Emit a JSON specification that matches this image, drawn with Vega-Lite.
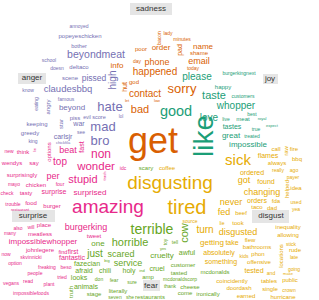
{
  "$schema": "https://vega.github.io/schema/vega-lite/v6.json",
  "width": 319,
  "height": 300,
  "autosize": {"type": "fit", "contains": "padding"},
  "padding": 0,
  "background": "white",
  "config": {"view": {"stroke": null}, "text": {"font": "Liberation Sans"}},
  "datasets": {
    "labels": [
      {"label": "sadness", "x": 151, "y": 9, "x1": 130, "x2": 172, "y1": 3, "y2": 15},
      {"label": "anger", "x": 32, "y": 78, "x1": 18, "x2": 46, "y1": 73, "y2": 84},
      {"label": "joy", "x": 270, "y": 79, "x1": 263, "x2": 278, "y1": 74, "y2": 84},
      {"label": "surprise", "x": 33, "y": 216, "x1": 12, "x2": 55, "y1": 210, "y2": 222},
      {"label": "disgust", "x": 271, "y": 216, "x1": 252, "x2": 289, "y1": 210, "y2": 223},
      {"label": "fear", "x": 151, "y": 286, "x1": 143, "x2": 160, "y1": 280, "y2": 291}
    ],
    "words": [
      {"word": "annoyed", "emotion": "anger", "x": 79, "y": 26, "n": 5, "v": false},
      {"word": "popeyeschicken", "emotion": "anger", "x": 80, "y": 36, "n": 6, "v": false},
      {"word": "bother", "emotion": "anger", "x": 79, "y": 46, "n": 5.5, "v": false},
      {"word": "beyondmeat", "emotion": "anger", "x": 96, "y": 55, "n": 10.5, "v": false},
      {"word": "school", "emotion": "anger", "x": 49, "y": 60, "n": 5, "v": false},
      {"word": "doesn", "emotion": "anger", "x": 57, "y": 68, "n": 5, "v": false},
      {"word": "deltaco", "emotion": "anger", "x": 79, "y": 67, "n": 6, "v": false},
      {"word": "scene", "emotion": "anger", "x": 70, "y": 78, "n": 6, "v": false},
      {"word": "pissed", "emotion": "anger", "x": 94, "y": 78, "n": 8.5, "v": false},
      {"word": "know", "emotion": "anger", "x": 28, "y": 90, "n": 5, "v": false},
      {"word": "claudesbbq", "emotion": "anger", "x": 68, "y": 89, "n": 9.5, "v": false},
      {"word": "famous", "emotion": "anger", "x": 66, "y": 99, "n": 5, "v": false},
      {"word": "high", "emotion": "anger", "x": 113, "y": 80, "n": 10, "v": true},
      {"word": "eating", "emotion": "anger", "x": 36, "y": 104, "n": 5, "v": true},
      {"word": "angry", "emotion": "anger", "x": 48, "y": 107, "n": 6, "v": true},
      {"word": "beyond", "emotion": "anger", "x": 72, "y": 108, "n": 8, "v": false},
      {"word": "hate", "emotion": "anger", "x": 110, "y": 107, "n": 13, "v": false},
      {"word": "star", "emotion": "anger", "x": 61, "y": 124, "n": 6, "v": true},
      {"word": "piss", "emotion": "anger", "x": 75, "y": 118, "n": 6, "v": false},
      {"word": "evil", "emotion": "anger", "x": 87, "y": 117, "n": 5, "v": false},
      {"word": "score", "emotion": "anger", "x": 99, "y": 117, "n": 5.5, "v": false},
      {"word": "lol", "emotion": "anger", "x": 121, "y": 117, "n": 4.5, "v": false},
      {"word": "keeping", "emotion": "anger", "x": 37, "y": 124, "n": 6, "v": false},
      {"word": "war", "emotion": "anger", "x": 79, "y": 124, "n": 7, "v": false},
      {"word": "mad", "emotion": "anger", "x": 103, "y": 127, "n": 13, "v": false},
      {"word": "greedy", "emotion": "anger", "x": 30, "y": 133, "n": 6, "v": false},
      {"word": "see", "emotion": "anger", "x": 81, "y": 132, "n": 5, "v": false},
      {"word": "carlsjr", "emotion": "anger", "x": 63, "y": 137, "n": 7, "v": false},
      {"word": "bro", "emotion": "anger", "x": 100, "y": 140.5, "n": 13, "v": false},
      {"word": "king", "emotion": "anger", "x": 33, "y": 141, "n": 5, "v": false},
      {"word": "chickfila", "emotion": "anger", "x": 63, "y": 143, "n": 4, "v": false},

      {"word": "new", "emotion": "surprise", "x": 9, "y": 151, "n": 5, "v": false},
      {"word": "think", "emotion": "surprise", "x": 23, "y": 152, "n": 6, "v": false},
      {"word": "lie", "emotion": "surprise", "x": 35, "y": 150, "n": 4, "v": true},
      {"word": "options", "emotion": "surprise", "x": 49, "y": 152, "n": 6, "v": true},
      {"word": "beat", "emotion": "surprise", "x": 68, "y": 150, "n": 9, "v": false},
      {"word": "fast", "emotion": "surprise", "x": 82, "y": 147, "n": 7, "v": true},
      {"word": "non", "emotion": "surprise", "x": 101, "y": 154, "n": 12, "v": false},
      {"word": "wendys", "emotion": "surprise", "x": 12, "y": 163, "n": 6, "v": false},
      {"word": "say", "emotion": "surprise", "x": 34, "y": 163, "n": 6, "v": false},
      {"word": "top", "emotion": "surprise", "x": 60, "y": 162, "n": 10, "v": false},
      {"word": "wonder", "emotion": "surprise", "x": 96, "y": 167, "n": 11.5, "v": false},
      {"word": "surprisingly", "emotion": "surprise", "x": 22, "y": 175, "n": 6, "v": false},
      {"word": "per", "emotion": "surprise", "x": 53, "y": 176, "n": 9, "v": false},
      {"word": "stupid", "emotion": "surprise", "x": 83, "y": 180, "n": 11, "v": false},
      {"word": "trash", "emotion": "surprise", "x": 105, "y": 176, "n": 4, "v": true},
      {"word": "mayo", "emotion": "surprise", "x": 14, "y": 184, "n": 5, "v": false},
      {"word": "chicken", "emotion": "surprise", "x": 36, "y": 185, "n": 6, "v": false},
      {"word": "four", "emotion": "surprise", "x": 60, "y": 184, "n": 5, "v": false},
      {"word": "check", "emotion": "surprise", "x": 7, "y": 193, "n": 5, "v": false},
      {"word": "tasty", "emotion": "surprise", "x": 26, "y": 193, "n": 6, "v": false},
      {"word": "surprise", "emotion": "surprise", "x": 54, "y": 192, "n": 7, "v": false},
      {"word": "surprised", "emotion": "surprise", "x": 90, "y": 193, "n": 8, "v": false},
      {"word": "trouble", "emotion": "surprise", "x": 13, "y": 204, "n": 5, "v": false},
      {"word": "food", "emotion": "surprise", "x": 31, "y": 203, "n": 6, "v": false},
      {"word": "burger", "emotion": "surprise", "x": 52, "y": 206, "n": 6, "v": false},
      {"word": "restaurant", "emotion": "surprise", "x": 20, "y": 210, "n": 4, "v": false},
      {"word": "amazing", "emotion": "surprise", "x": 108, "y": 207, "n": 19, "v": false},
      {"word": "also", "emotion": "surprise", "x": 18, "y": 228, "n": 5, "v": false},
      {"word": "will", "emotion": "surprise", "x": 31, "y": 227, "n": 5, "v": false},
      {"word": "place", "emotion": "surprise", "x": 44, "y": 225, "n": 6, "v": false},
      {"word": "burgerking", "emotion": "surprise", "x": 86, "y": 227, "n": 9, "v": false},
      {"word": "many", "emotion": "surprise", "x": 10, "y": 233, "n": 5, "v": false},
      {"word": "meatless", "emotion": "surprise", "x": 40, "y": 234, "n": 6, "v": false},
      {"word": "tweet", "emotion": "surprise", "x": 94, "y": 236, "n": 6, "v": false},
      {"word": "impossiblewhopper", "emotion": "surprise", "x": 43, "y": 242, "n": 8, "v": false},
      {"word": "johnlegere", "emotion": "surprise", "x": 40, "y": 250, "n": 6, "v": false},
      {"word": "find", "emotion": "surprise", "x": 63, "y": 252, "n": 5.5, "v": false},
      {"word": "first", "emotion": "surprise", "x": 73, "y": 252, "n": 6.5, "v": false},
      {"word": "now", "emotion": "surprise", "x": 6, "y": 254, "n": 5, "v": false},
      {"word": "skvinnicki", "emotion": "surprise", "x": 31, "y": 257, "n": 5, "v": false},
      {"word": "fantastic", "emotion": "surprise", "x": 72, "y": 258, "n": 7, "v": false},
      {"word": "option", "emotion": "surprise", "x": 15, "y": 263, "n": 5, "v": false},
      {"word": "freaking", "emotion": "surprise", "x": 47, "y": 267, "n": 5, "v": false},
      {"word": "beso", "emotion": "surprise", "x": 66, "y": 267, "n": 5, "v": false},
      {"word": "people", "emotion": "surprise", "x": 35, "y": 273, "n": 5, "v": false},
      {"word": "tried", "emotion": "surprise", "x": 62, "y": 277, "n": 5, "v": false},
      {"word": "vegans", "emotion": "surprise", "x": 11, "y": 283, "n": 5, "v": false},
      {"word": "read", "emotion": "surprise", "x": 28, "y": 281, "n": 5, "v": false},
      {"word": "plant", "emotion": "surprise", "x": 49, "y": 284, "n": 5, "v": false},
      {"word": "impossiblefoods", "emotion": "surprise", "x": 31, "y": 293, "n": 5, "v": false},
      {"word": "idc", "emotion": "surprise", "x": 123, "y": 168, "n": 5, "v": false},

      {"word": "one", "emotion": "fear", "x": 98, "y": 244, "n": 8, "v": false},
      {"word": "just", "emotion": "fear", "x": 95, "y": 253.5, "n": 10, "v": false},
      {"word": "fazecian", "emotion": "fear", "x": 87, "y": 264, "n": 7, "v": false},
      {"word": "afraid", "emotion": "fear", "x": 84, "y": 271, "n": 7, "v": false},
      {"word": "chili", "emotion": "fear", "x": 105, "y": 271, "n": 7, "v": false},
      {"word": "looks", "emotion": "fear", "x": 79, "y": 278, "n": 7, "v": false},
      {"word": "don", "emotion": "fear", "x": 99, "y": 279, "n": 5, "v": false},
      {"word": "truth", "emotion": "fear", "x": 71, "y": 292, "n": 6, "v": true},
      {"word": "animals", "emotion": "fear", "x": 86, "y": 287, "n": 7, "v": false},
      {"word": "stage", "emotion": "fear", "x": 94, "y": 294, "n": 6, "v": false},
      {"word": "terrible", "emotion": "fear", "x": 152, "y": 230, "n": 14, "v": false},
      {"word": "cow", "emotion": "fear", "x": 185, "y": 233, "n": 11, "v": true},
      {"word": "horrible", "emotion": "fear", "x": 130, "y": 243, "n": 11, "v": false},
      {"word": "toy", "emotion": "fear", "x": 165, "y": 242, "n": 5, "v": true},
      {"word": "tell", "emotion": "fear", "x": 175, "y": 242, "n": 5, "v": false},
      {"word": "yes", "emotion": "fear", "x": 163, "y": 249, "n": 4, "v": false},
      {"word": "awful", "emotion": "fear", "x": 187, "y": 253, "n": 7, "v": false},
      {"word": "scared", "emotion": "fear", "x": 121, "y": 254, "n": 9, "v": false},
      {"word": "cruelty", "emotion": "fear", "x": 162, "y": 256, "n": 8, "v": false},
      {"word": "big", "emotion": "fear", "x": 107, "y": 261, "n": 4, "v": false},
      {"word": "service", "emotion": "fear", "x": 128, "y": 263, "n": 9, "v": false},
      {"word": "customer", "emotion": "fear", "x": 183, "y": 265, "n": 6, "v": false},
      {"word": "holy", "emotion": "fear", "x": 129, "y": 271, "n": 7, "v": false},
      {"word": "ind", "emotion": "fear", "x": 142, "y": 271, "n": 4, "v": false},
      {"word": "cruel", "emotion": "fear", "x": 157, "y": 269, "n": 7, "v": false},
      {"word": "tasted", "emotion": "fear", "x": 179, "y": 273, "n": 6, "v": false},
      {"word": "mcdonalds", "emotion": "fear", "x": 215, "y": 272, "n": 6, "v": false},
      {"word": "fear", "emotion": "fear", "x": 114, "y": 280, "n": 5, "v": false},
      {"word": "sure", "emotion": "fear", "x": 132, "y": 282, "n": 5, "v": false},
      {"word": "amp", "emotion": "fear", "x": 148, "y": 277, "n": 6, "v": false},
      {"word": "mcdonaldscorp", "emotion": "fear", "x": 180, "y": 279, "n": 5, "v": false},
      {"word": "thank", "emotion": "fear", "x": 170, "y": 286, "n": 5, "v": false},
      {"word": "cheese", "emotion": "fear", "x": 190, "y": 287, "n": 6, "v": false},
      {"word": "literally", "emotion": "fear", "x": 118, "y": 291, "n": 6, "v": false},
      {"word": "come", "emotion": "fear", "x": 185, "y": 293, "n": 6, "v": false},
      {"word": "ironically", "emotion": "fear", "x": 208, "y": 294, "n": 6, "v": false},
      {"word": "seven", "emotion": "fear", "x": 115, "y": 297, "n": 5, "v": false},
      {"word": "she", "emotion": "fear", "x": 130, "y": 297, "n": 5, "v": false},
      {"word": "restaurants", "emotion": "fear", "x": 150, "y": 297, "n": 6, "v": false},
      {"word": "scary", "emotion": "fear", "x": 146, "y": 168, "n": 6, "v": false},

      {"word": "coffee", "emotion": "disgust", "x": 167, "y": 168, "n": 6, "v": false},
      {"word": "disgusting", "emotion": "disgust", "x": 170, "y": 183, "n": 19, "v": false},
      {"word": "tired", "emotion": "disgust", "x": 187, "y": 208, "n": 20, "v": false},
      {"word": "source", "emotion": "disgust", "x": 190, "y": 221, "n": 5, "v": false},
      {"word": "turn", "emotion": "disgust", "x": 205, "y": 230, "n": 10, "v": false},
      {"word": "getting", "emotion": "disgust", "x": 212, "y": 243, "n": 8, "v": false},
      {"word": "sick", "emotion": "disgust", "x": 238, "y": 160, "n": 15, "v": false},
      {"word": "call", "emotion": "disgust", "x": 276, "y": 149, "n": 6, "v": false},
      {"word": "raw", "emotion": "disgust", "x": 286, "y": 151, "n": 6, "v": true},
      {"word": "fire", "emotion": "disgust", "x": 294, "y": 149, "n": 6, "v": false},
      {"word": "flames", "emotion": "disgust", "x": 268, "y": 156, "n": 7, "v": false},
      {"word": "bbq", "emotion": "disgust", "x": 297, "y": 159, "n": 6, "v": false},
      {"word": "always", "emotion": "disgust", "x": 277, "y": 163, "n": 6, "v": false},
      {"word": "really", "emotion": "disgust", "x": 278, "y": 170, "n": 5, "v": false},
      {"word": "ago", "emotion": "disgust", "x": 294, "y": 170, "n": 5, "v": false},
      {"word": "ordered", "emotion": "disgust", "x": 252, "y": 173, "n": 7, "v": false},
      {"word": "payer", "emotion": "disgust", "x": 293, "y": 177, "n": 5, "v": false},
      {"word": "got", "emotion": "disgust", "x": 244, "y": 180, "n": 9, "v": false},
      {"word": "found", "emotion": "disgust", "x": 266, "y": 182, "n": 7, "v": false},
      {"word": "helped", "emotion": "disgust", "x": 287, "y": 189, "n": 6, "v": true},
      {"word": "idea", "emotion": "disgust", "x": 296, "y": 188, "n": 6, "v": false},
      {"word": "changing", "emotion": "disgust", "x": 262, "y": 192, "n": 9, "v": false},
      {"word": "never", "emotion": "disgust", "x": 231, "y": 202, "n": 9, "v": false},
      {"word": "orders", "emotion": "disgust", "x": 257, "y": 201, "n": 7, "v": false},
      {"word": "fda", "emotion": "disgust", "x": 276, "y": 201, "n": 6, "v": false},
      {"word": "used", "emotion": "disgust", "x": 296, "y": 202, "n": 5, "v": false},
      {"word": "taco", "emotion": "disgust", "x": 257, "y": 207, "n": 6, "v": false},
      {"word": "dad", "emotion": "disgust", "x": 272, "y": 208, "n": 6, "v": false},
      {"word": "yea", "emotion": "disgust", "x": 296, "y": 209, "n": 5, "v": false},
      {"word": "fed", "emotion": "disgust", "x": 224, "y": 212, "n": 9, "v": false},
      {"word": "beef", "emotion": "disgust", "x": 241, "y": 213, "n": 6, "v": false},
      {"word": "lie", "emotion": "disgust", "x": 222, "y": 223, "n": 5, "v": false},
      {"word": "took", "emotion": "disgust", "x": 238, "y": 223, "n": 6, "v": false},
      {"word": "inequality", "emotion": "disgust", "x": 288, "y": 227, "n": 6, "v": false},
      {"word": "disgusted", "emotion": "disgust", "x": 238, "y": 232, "n": 9, "v": false},
      {"word": "allowing", "emotion": "disgust", "x": 288, "y": 235, "n": 6, "v": false},
      {"word": "flew", "emotion": "disgust", "x": 250, "y": 240, "n": 6, "v": false},
      {"word": "take", "emotion": "disgust", "x": 232, "y": 243, "n": 7, "v": false},
      {"word": "stick", "emotion": "disgust", "x": 291, "y": 244, "n": 5, "v": false},
      {"word": "bathrooms", "emotion": "disgust", "x": 257, "y": 247, "n": 6, "v": false},
      {"word": "locations", "emotion": "disgust", "x": 281, "y": 256, "n": 6, "v": true},
      {"word": "rude", "emotion": "disgust", "x": 295, "y": 250, "n": 6, "v": false},
      {"word": "absolutely", "emotion": "disgust", "x": 219, "y": 253, "n": 7, "v": false},
      {"word": "kids", "emotion": "disgust", "x": 244, "y": 256, "n": 5, "v": false},
      {"word": "phon", "emotion": "disgust", "x": 258, "y": 254, "n": 6, "v": false},
      {"word": "late", "emotion": "disgust", "x": 294, "y": 257, "n": 5, "v": false},
      {"word": "offensive", "emotion": "disgust", "x": 259, "y": 262, "n": 6, "v": false},
      {"word": "something", "emotion": "disgust", "x": 221, "y": 262, "n": 7, "v": false},
      {"word": "going", "emotion": "disgust", "x": 294, "y": 269, "n": 5, "v": false},
      {"word": "tested", "emotion": "disgust", "x": 254, "y": 271, "n": 7, "v": false},
      {"word": "and", "emotion": "disgust", "x": 271, "y": 273, "n": 5, "v": false},
      {"word": "make", "emotion": "disgust", "x": 288, "y": 274, "n": 4, "v": false},
      {"word": "coincidently", "emotion": "disgust", "x": 232, "y": 281, "n": 6, "v": false},
      {"word": "tables", "emotion": "disgust", "x": 269, "y": 281, "n": 6, "v": false},
      {"word": "public", "emotion": "disgust", "x": 290, "y": 280, "n": 6, "v": false},
      {"word": "doordash", "emotion": "disgust", "x": 239, "y": 288, "n": 6, "v": false},
      {"word": "single", "emotion": "disgust", "x": 270, "y": 289, "n": 6, "v": false},
      {"word": "crown", "emotion": "disgust", "x": 289, "y": 290, "n": 5, "v": false},
      {"word": "earned", "emotion": "disgust", "x": 246, "y": 296, "n": 6, "v": false},
      {"word": "hurricane", "emotion": "disgust", "x": 283, "y": 297, "n": 6, "v": false},

      {"word": "please", "emotion": "joy", "x": 197, "y": 77, "n": 10, "v": false},
      {"word": "taste", "emotion": "joy", "x": 214, "y": 96, "n": 11, "v": false},
      {"word": "burgerkingnext", "emotion": "joy", "x": 239, "y": 73, "n": 5, "v": false},
      {"word": "happy", "emotion": "joy", "x": 223, "y": 87, "n": 6, "v": false},
      {"word": "customers", "emotion": "joy", "x": 243, "y": 96, "n": 5, "v": false},
      {"word": "whopper", "emotion": "joy", "x": 236, "y": 106, "n": 10, "v": false},
      {"word": "good", "emotion": "joy", "x": 176, "y": 112, "n": 14.5, "v": false},
      {"word": "love", "emotion": "joy", "x": 209, "y": 118, "n": 10, "v": false},
      {"word": "live", "emotion": "joy", "x": 226, "y": 119, "n": 5, "v": false},
      {"word": "meat", "emotion": "joy", "x": 243, "y": 119, "n": 6, "v": false},
      {"word": "royal", "emotion": "joy", "x": 262, "y": 119, "n": 4, "v": false},
      {"word": "best", "emotion": "joy", "x": 252, "y": 114, "n": 5, "v": false},
      {"word": "tastes", "emotion": "joy", "x": 232, "y": 127, "n": 7, "v": false},
      {"word": "true", "emotion": "joy", "x": 256, "y": 129, "n": 5, "v": false},
      {"word": "expect", "emotion": "joy", "x": 272, "y": 126, "n": 4, "v": false},
      {"word": "great", "emotion": "joy", "x": 231, "y": 135.5, "n": 8, "v": false},
      {"word": "treated", "emotion": "joy", "x": 252, "y": 136, "n": 5, "v": false},
      {"word": "impossible", "emotion": "joy", "x": 248, "y": 144.5, "n": 8, "v": false},
      {"word": "like", "emotion": "joy", "x": 205, "y": 136, "n": 28, "v": true},

      {"word": "bacon", "emotion": "sadness", "x": 159, "y": 38, "n": 5, "v": true},
      {"word": "lady", "emotion": "sadness", "x": 168, "y": 33, "n": 5, "v": false},
      {"word": "minutes", "emotion": "sadness", "x": 182, "y": 39, "n": 5, "v": false},
      {"word": "poor", "emotion": "sadness", "x": 141, "y": 49, "n": 6, "v": false},
      {"word": "order", "emotion": "sadness", "x": 161, "y": 48, "n": 8, "v": false},
      {"word": "pad", "emotion": "sadness", "x": 180, "y": 50, "n": 7, "v": true},
      {"word": "name", "emotion": "sadness", "x": 203, "y": 47, "n": 8, "v": false},
      {"word": "shame", "emotion": "sadness", "x": 199, "y": 53, "n": 6, "v": false},
      {"word": "day", "emotion": "sadness", "x": 137, "y": 61, "n": 5, "v": false},
      {"word": "phone", "emotion": "sadness", "x": 157, "y": 62, "n": 9, "v": false},
      {"word": "email", "emotion": "sadness", "x": 199, "y": 61, "n": 9, "v": false},
      {"word": "today", "emotion": "sadness", "x": 193, "y": 68, "n": 5, "v": false},
      {"word": "info", "emotion": "sadness", "x": 117, "y": 66, "n": 8, "v": false},
      {"word": "happened", "emotion": "sadness", "x": 155, "y": 72, "n": 10, "v": false},
      {"word": "hut", "emotion": "sadness", "x": 125, "y": 87, "n": 7, "v": true},
      {"word": "god", "emotion": "sadness", "x": 134, "y": 82, "n": 6, "v": false},
      {"word": "contact", "emotion": "sadness", "x": 145, "y": 94, "n": 10, "v": false},
      {"word": "sorry", "emotion": "sadness", "x": 182, "y": 89, "n": 13, "v": false},
      {"word": "bad", "emotion": "sadness", "x": 140, "y": 110, "n": 11, "v": false},
      {"word": "get", "emotion": "sadness", "x": 153, "y": 142, "n": 36, "v": false},
      {"word": "let", "emotion": "sadness", "x": 127, "y": 101, "n": 4, "v": false},
      {"word": "low", "emotion": "sadness", "x": 157, "y": 101, "n": 4, "v": false}
    ]
  },
  "layer": [
    {
      "data": {"name": "labels"},
      "mark": {"type": "rect", "color": "#e5e5e5"},
      "encoding": {
        "x": {"field": "x1", "type": "quantitative", "scale": {"domain": [0, 319]}, "axis": null},
        "x2": {"field": "x2"},
        "y": {"field": "y1", "type": "quantitative", "scale": {"domain": [0, 300], "reverse": true}, "axis": null},
        "y2": {"field": "y2"}
      }
    },
    {
      "data": {"name": "labels"},
      "mark": {"type": "text", "fontSize": 8, "color": "#333333", "baseline": "middle", "align": "center"},
      "encoding": {
        "x": {"field": "x", "type": "quantitative", "scale": {"domain": [0, 319]}, "axis": null},
        "y": {"field": "y", "type": "quantitative", "scale": {"domain": [0, 300], "reverse": true}, "axis": null},
        "text": {"field": "label"}
      }
    },
    {
      "data": {"name": "words"},
      "transform": [{"filter": "!datum.v"}],
      "mark": {"type": "text", "baseline": "middle", "align": "center"},
      "encoding": {
        "x": {"field": "x", "type": "quantitative", "scale": {"domain": [0, 319]}, "axis": null},
        "y": {"field": "y", "type": "quantitative", "scale": {"domain": [0, 300], "reverse": true}, "axis": null},
        "text": {"field": "word"},
        "size": {"field": "n", "type": "quantitative", "scale": {"type": "linear", "domain": [0, 40], "range": [0, 40]}, "legend": null},
        "color": {"field": "emotion", "type": "nominal", "scale": {"domain": ["anger", "disgust", "fear", "joy", "sadness", "surprise"], "range": ["#7570b3", "#e6ab02", "#66a61e", "#1b9e77", "#d95f02", "#e7298a"]}, "legend": null}
      }
    },
    {
      "data": {"name": "words"},
      "transform": [{"filter": "datum.v"}],
      "mark": {"type": "text", "baseline": "middle", "align": "center", "angle": 270},
      "encoding": {
        "x": {"field": "x", "type": "quantitative", "scale": {"domain": [0, 319]}, "axis": null},
        "y": {"field": "y", "type": "quantitative", "scale": {"domain": [0, 300], "reverse": true}, "axis": null},
        "text": {"field": "word"},
        "size": {"field": "n", "type": "quantitative", "scale": {"type": "linear", "domain": [0, 40], "range": [0, 40]}, "legend": null},
        "color": {"field": "emotion", "type": "nominal", "scale": {"domain": ["anger", "disgust", "fear", "joy", "sadness", "surprise"], "range": ["#7570b3", "#e6ab02", "#66a61e", "#1b9e77", "#d95f02", "#e7298a"]}, "legend": null}
      }
    }
  ]
}
